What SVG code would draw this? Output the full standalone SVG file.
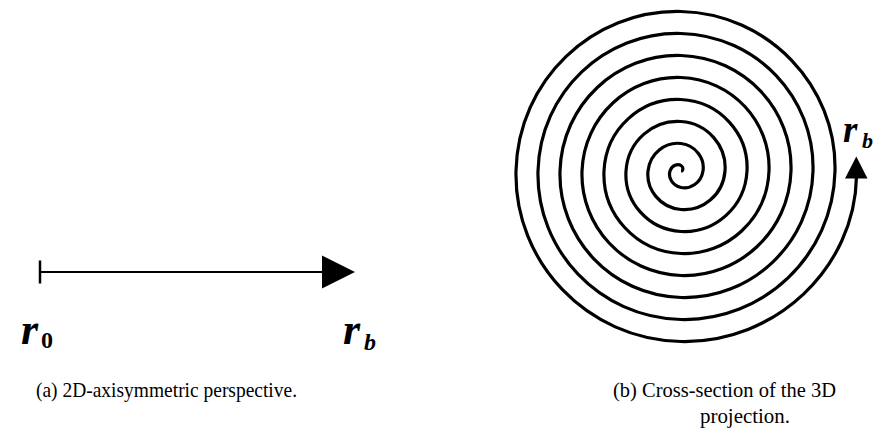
<svg xmlns="http://www.w3.org/2000/svg" width="877" height="446" viewBox="0 0 877 446">
<style>
.ln{fill:none;stroke:#000;stroke-linecap:butt}
.head{fill:#000;stroke:none}
.var{font-family:"Liberation Serif","Times New Roman",serif;font-weight:bold;font-style:italic;fill:#000}
.sub{font-family:"Liberation Serif","Times New Roman",serif;font-weight:bold;fill:#000}
.cap{font-family:"Liberation Serif","Times New Roman",serif;font-size:21px;fill:#000}
</style>
<rect width="877" height="446" fill="#fff"/>
<g id="connectors">
  <g id="radial-arrow">
    <line class="ln" x1="40" y1="272" x2="324" y2="272" stroke-width="2"/>
    <line class="ln" x1="40" y1="260.5" x2="40" y2="283.5" stroke-width="2.5"/>
    <polygon class="head" points="322,255.5 355,272 322,288.5"/>
  </g>
  <g id="spiral-arrow">
    <path class="ln" stroke-width="3.2" d="M681,171 C682.93,171 684.04,167.43 681,165.5 C677.96,163.57 671.93,164.92 670,171 C668.07,177.08 671.89,185.57 681,187.5 C690.11,189.43 701.07,183.15 703,171 C704.93,158.85 696.19,145.43 681,143.5 C665.81,141.57 649.93,152.77 648,171 C646.07,189.23 659.74,207.57 681,209.5 C702.26,211.43 723.07,195.3 725,171 C726.93,146.7 708.34,123.43 681,121.5 C653.66,119.57 627.93,140.62 626,171 C624.07,201.38 647.59,229.57 681,231.5 C714.41,233.43 745.07,207.45 747,171 C748.93,134.55 720.49,101.43 681,99.5 C641.51,97.57 605.93,128.47 604,171 C602.07,213.53 635.44,251.57 681,253.5 C726.56,255.43 767.07,219.6 769,171 C770.93,122.4 732.64,79.43 681,77.5 C629.36,75.57 583.93,116.32 582,171 C580.07,225.68 623.29,273.57 681,275.5 C738.71,277.43 789.07,231.75 791,171 C792.93,110.25 744.79,57.43 681,55.5 C617.21,53.57 561.93,104.17 560,171 C558.07,237.83 611.14,295.57 681,297.5 C750.86,299.43 811.07,243.9 813,171 C814.93,98.1 756.94,35.43 681,33.5 C605.06,31.57 539.93,92.02 538,171 C536.07,249.98 598.99,317.57 681,319.5 C763.01,321.43 833.07,256.05 835,171 C836.93,85.95 768.09,13.43 681,11.5 C592.91,9.57 517.93,79.87 516,171 C514.07,262.13 586.84,339.57 681,341.5 C775.16,343.43 855.07,268.2 856.5,176"/>
    <polygon class="head" points="845,178.5 867.5,178.5 856.3,156.5"/>
  </g>
</g>
<g id="label-r0">
  <text class="var" x="21" y="344" font-size="44">r</text>
  <text class="sub" x="41" y="347.5" font-size="24">0</text>
</g>
<g id="label-rb-left">
  <text class="var" x="343" y="344" font-size="44">r</text>
  <text class="var" x="364" y="349.5" font-size="24">b</text>
</g>
<g id="label-rb-spiral">
  <text class="var" x="843" y="142" font-size="37">r</text>
  <text class="var" x="862" y="148" font-size="22">b</text>
</g>
<g id="caption-a">
  <text class="cap" x="36" y="397" textLength="261" lengthAdjust="spacingAndGlyphs">(a) 2D-axisymmetric perspective.</text>
</g>
<g id="caption-b">
  <text class="cap" x="613" y="397" textLength="223" lengthAdjust="spacingAndGlyphs">(b) Cross-section of the 3D</text>
  <text class="cap" x="700" y="423" textLength="90" lengthAdjust="spacingAndGlyphs">projection.</text>
</g>
</svg>
